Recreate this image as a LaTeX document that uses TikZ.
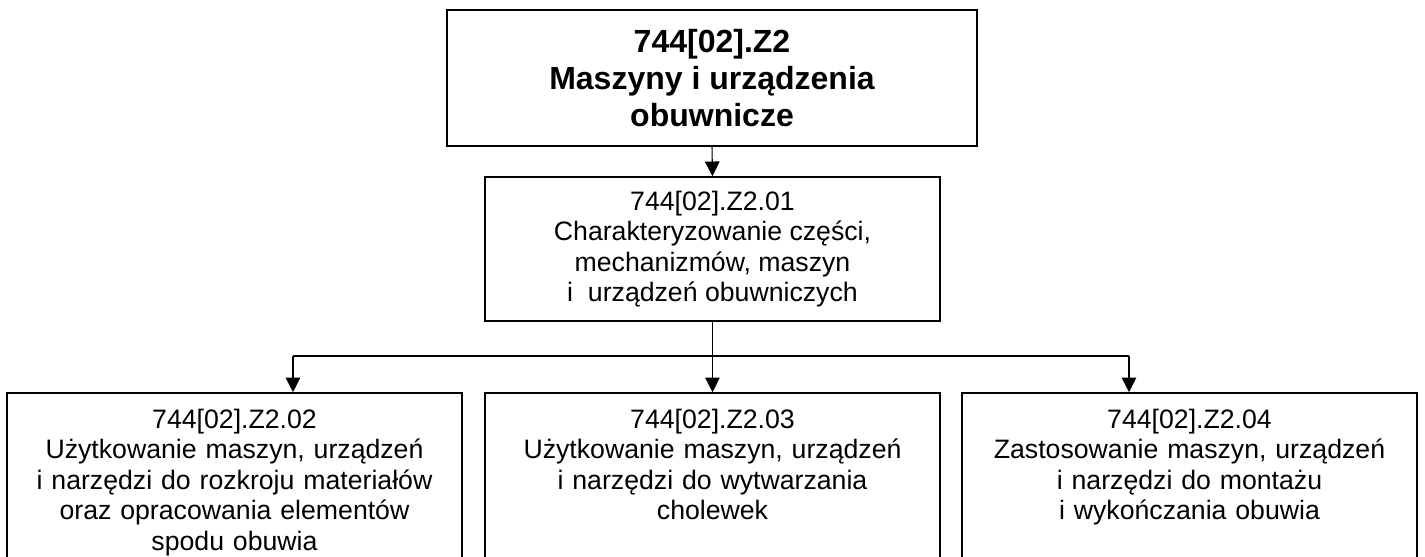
\documentclass[tikz,border=0pt]{standalone}
\usepackage{fontspec}
\setmainfont{Liberation Sans}
\usetikzlibrary{arrows.meta}
\begin{document}
\begin{tikzpicture}[x=0.75pt,y=-0.75pt,
  boxline/.style={draw=black,line width=1.2pt},
  titlebox/.style={boxline,minimum width=397.5pt,minimum height=102pt,align=center,
    font=\bfseries\fontsize{24}{27.5}\selectfont,inner sep=0pt},
  midbox/.style={boxline,minimum width=341.25pt,minimum height=108pt,align=center,
    font=\fontsize{20}{22.9}\selectfont,inner sep=0pt},
  lowbox/.style={boxline,text width=341.25pt,align=center,inner xsep=0pt,
    text height=15pt,inner ysep=11.25pt,text depth=110pt,anchor=base,
    font=\fontsize{20}{22.9}\selectfont},
  conn/.style={line width=0.8pt,draw=black},
  arr/.style={conn,-{Triangle[length=11pt,width=11pt]}}]
\useasboundingbox (0,0) rectangle (1425,557);
\fill[white] (0,0) rectangle (1425,557);
\clip (0,0) rectangle (1425,557);
\node[titlebox] (top) at (712,78) {744[02].Z2\\Maszyny i urządzenia\\obuwnicze};
\node[midbox] (mid) at (712.5,249) {744[02].Z2.01\\Charakteryzowanie części,\\mechanizmów, maszyn\\i\ \ urządzeń obuwniczych};
\node[lowbox] (b1) at (234.5,428) {744[02].Z2.02\\Użytkowanie maszyn, urządzeń\\i narzędzi do rozkroju materiałów\\oraz opracowania elementów\\spodu obuwia};
\node[lowbox] (b2) at (712.5,428) {744[02].Z2.03\\Użytkowanie maszyn, urządzeń\\i narzędzi do wytwarzania\\cholewek};
\node[lowbox] (b3) at (1189.5,428) {744[02].Z2.04\\Zastosowanie maszyn, urządzeń\\i narzędzi do montażu\\i wykończania obuwia};
\coordinate (jl) at (293,356);
\coordinate (jr) at (1129,356);
\draw[arr] (top.south) -- (mid.north);
\draw[arr] (mid.south) -- (mid.south |- b2.north);
\draw[conn] (jl) -- (jr);
\draw[arr] (jl) -- (jl |- b1.north);
\draw[arr] (jr) -- (jr |- b3.north);
\end{tikzpicture}
\end{document}
